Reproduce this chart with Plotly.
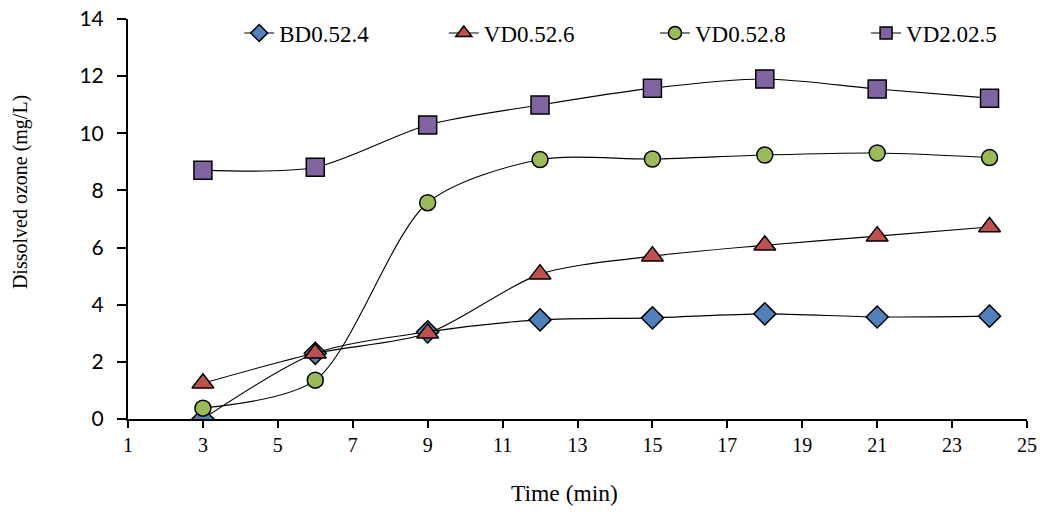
import plotly.graph_objects as go

time_min = [3, 6, 9, 12, 15, 18, 21, 24]
bd_0_5_2_4 = [0.0, 2.3, 3.05, 3.47, 3.54, 3.68, 3.57, 3.6]
vd_0_5_2_6 = [1.25, 2.3, 3.0, 5.07, 5.7, 6.08, 6.4, 6.72]
vd_0_5_2_8 = [0.38, 1.36, 7.57, 9.08, 9.1, 9.24, 9.31, 9.15]
vd_2_0_2_5 = [8.71, 8.81, 10.29, 10.99, 11.58, 11.9, 11.55, 11.23]

series_names = ["BD0.52.4", "VD0.52.6", "VD0.52.8", "VD2.02.5"]
x_ticks = list(range(1, 26, 2))
y_ticks = list(range(0, 15, 2))

styles = [
    dict(symbol="diamond", color="#4F81BD", size=17, lsize=13),
    dict(symbol="triangle-up", color="#C0504D", size=19, lsize=14),
    dict(symbol="circle", color="#9BBB59", size=16, lsize=13),
    dict(symbol="square", color="#8064A2", size=18, lsize=12),
]
data = [bd_0_5_2_4, vd_0_5_2_6, vd_0_5_2_8, vd_2_0_2_5]
legend_ids = ["legend", "legend2", "legend3", "legend4"]
legend_x = [0.1237, 0.3513, 0.5862, 0.8210]

serif = "Liberation Serif"

fig = go.Figure()
for name, vals, st in zip(series_names, data, styles):
    fig.add_trace(go.Scatter(
        x=time_min, y=vals, name=name, mode="lines+markers", showlegend=False,
        line=dict(color="black", width=1.1, shape="spline", smoothing=0.8),
        marker=dict(symbol=st["symbol"], color=st["color"], size=st["size"],
                    line=dict(color="black", width=1.5)),
    ))
# legend entries (no data drawn)
for name, st, lid in zip(series_names, styles, legend_ids):
    fig.add_trace(go.Scatter(
        x=[None], y=[None], name=name, mode="lines+markers", legend=lid,
        line=dict(color="black", width=1.1),
        marker=dict(symbol=st["symbol"], color=st["color"], size=st["lsize"],
                    line=dict(color="black", width=1.5)),
    ))

legend_layouts = {}
for lid, lx in zip(legend_ids, legend_x):
    legend_layouts[lid] = dict(
        orientation="h", x=lx, xanchor="left",
        y=0.965, yanchor="middle",
        font=dict(family=serif, size=23, color="black"),
        bgcolor="rgba(0,0,0,0)")

fig.update_layout(
    width=1042, height=514,
    margin=dict(l=128, r=15, t=19, b=95, autoexpand=False),
    plot_bgcolor="white", paper_bgcolor="white",
    showlegend=True,
    **legend_layouts,
    xaxis=dict(range=[1, 25], tickvals=x_ticks, ticks="outside", ticklen=7, tickwidth=2,
               tickcolor="black", showline=True, linecolor="black", linewidth=2,
               showgrid=False, zeroline=False,
               tickfont=dict(family=serif, size=20, color="black")),
    yaxis=dict(range=[0, 14], tickvals=y_ticks, ticks="outside", ticklen=9, tickwidth=2,
               tickcolor="black", showline=True, linecolor="black", linewidth=2,
               showgrid=False, zeroline=False, ticklabelstandoff=9,
               tickfont=dict(family="Lato", size=21, color="black")),
    annotations=[
        dict(text="Time (min)", xref="paper", yref="paper", x=0.486, y=-0.185,
             xanchor="center", yanchor="middle", showarrow=False,
             font=dict(family=serif, size=23.5, color="black")),
        dict(text="Dissolved ozone (mg/L)", xref="paper", yref="paper", x=-0.12, y=0.5675,
             xanchor="center", yanchor="middle", showarrow=False, textangle=-90,
             font=dict(family=serif, size=20, color="black")),
    ],
)

fig.write_html("out.html")
